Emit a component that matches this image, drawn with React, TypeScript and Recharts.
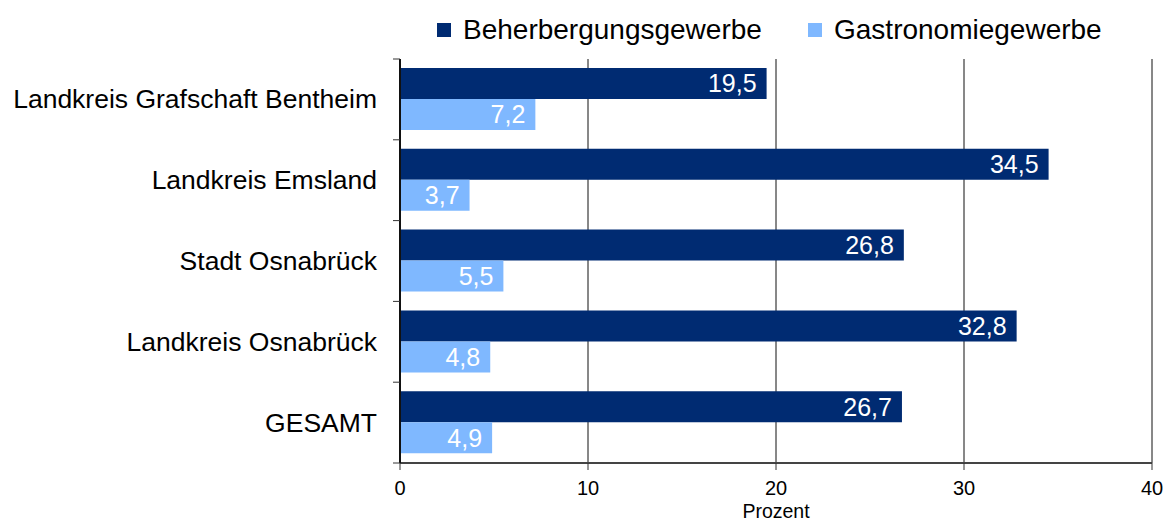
import { BarChart, Bar, XAxis, YAxis, CartesianGrid, LabelList } from "recharts";

const regions = [
  "Landkreis Grafschaft Bentheim",
  "Landkreis Emsland",
  "Stadt Osnabrück",
  "Landkreis Osnabrück",
  "GESAMT",
];
const beherbergung = [19.5, 34.5, 26.8, 32.8, 26.7];
const gastronomie = [7.2, 3.7, 5.5, 4.8, 4.9];
const xTicks = [0, 10, 20, 30, 40];

const DARK = "#002b72";
const LIGHT = "#7fb8ff";
const FONT = "'Liberation Sans', Arial, Helvetica, sans-serif";

const W = 1170;
const H = 523;
const TOP = 59;
const BOTTOM_AXIS = 60;
const BAND = (H - TOP - BOTTOM_AXIS) / regions.length;

const data = regions.map((name, i) => ({
  name,
  beherbergung: beherbergung[i],
  gastronomie: gastronomie[i],
}));

const fmt = (v: any) => String(v).replace(".", ",");

function CategoryTick(props: any) {
  const { x, y, payload, index } = props;
  const last = index === regions.length - 1;
  return (
    <g>
      <line x1={x + 16} x2={x + 23} y1={y - BAND / 2} y2={y - BAND / 2} stroke="#333" />
      {last && (
        <line x1={x + 16} x2={x + 23} y1={y + BAND / 2} y2={y + BAND / 2} stroke="#333" />
      )}
      <text
        x={x}
        y={y}
        dy={9}
        textAnchor="end"
        fontSize={26.5}
        fill="#000"
        fontFamily={FONT}
      >
        {payload.value}
      </text>
    </g>
  );
}

function LegendBox() {
  const items = [
    { label: "Beherbergungsgewerbe", color: DARK, left: 437 },
    { label: "Gastronomiegewerbe", color: LIGHT, left: 808 },
  ];
  return (
    <>
      {items.map((it) => (
        <div
          key={it.label}
          style={{
            position: "absolute",
            left: it.left,
            top: 13,
            display: "flex",
            alignItems: "center",
            fontFamily: FONT,
            fontSize: 28,
            lineHeight: "34px",
            color: "#000",
            whiteSpace: "nowrap",
          }}
        >
          <span
            style={{
              display: "inline-block",
              width: 14,
              height: 14,
              background: it.color,
              marginRight: 12,
            }}
          />
          {it.label}
        </div>
      ))}
    </>
  );
}

export default function App() {
  return (
    <div style={{ position: "relative", width: W, height: H, background: "#fff" }}>
      <style>{`body{margin:0}`}</style>
      <BarChart
        width={W}
        height={H}
        data={data}
        layout="vertical"
        margin={{ top: TOP, right: 18, left: 0, bottom: 0 }}
        barGap={0}
        barSize={31}
      >
        <CartesianGrid
          xAxisId="main"
          yAxisId="main"
          horizontal={false}
          stroke="#111"
          strokeWidth={1}
        />
        <XAxis
          xAxisId="main"
          type="number"
          domain={[0, 40]}
          ticks={xTicks}
          height={BOTTOM_AXIS}
          axisLine={{ stroke: "#444", strokeWidth: 2 }}
          tickLine={{ stroke: "#333" }}
          tickSize={7}
          tick={{ fontSize: 20, fill: "#000", fontFamily: FONT }}
          tickMargin={11}
          interval={0}
          label={{
            value: "Prozent",
            position: "insideBottom",
            offset: 5,
            style: { fontSize: 19.5, fill: "#000", fontFamily: FONT },
          }}
        />
        <XAxis
          xAxisId="top"
          orientation="top"
          type="number"
          domain={[0, 40]}
          height={0}
          tick={false}
          tickLine={false}
          axisLine={{ stroke: "#999", strokeWidth: 2 }}
        />
        <YAxis
          yAxisId="main"
          type="category"
          dataKey="name"
          width={400}
          axisLine={{ stroke: "#111", strokeWidth: 2 }}
          tickLine={false}
          tick={<CategoryTick />}
          tickMargin={17}
          interval={0}
        />
        <YAxis
          yAxisId="right"
          orientation="right"
          type="category"
          dataKey="name"
          width={0}
          tick={false}
          tickLine={false}
          axisLine={{ stroke: "#999", strokeWidth: 2 }}
        />
        <Bar
          xAxisId="main"
          yAxisId="main"
          dataKey="beherbergung"
          fill={DARK}
          isAnimationActive={false}
        >
          <LabelList
            dataKey="beherbergung"
            position="insideRight"
            offset={10}
            formatter={fmt}
            style={{ fill: "#fff", fontSize: 25, fontFamily: FONT }}
          />
        </Bar>
        <Bar
          xAxisId="main"
          yAxisId="main"
          dataKey="gastronomie"
          fill={LIGHT}
          isAnimationActive={false}
        >
          <LabelList
            dataKey="gastronomie"
            position="insideRight"
            offset={10}
            formatter={fmt}
            style={{ fill: "#fff", fontSize: 25, fontFamily: FONT }}
          />
        </Bar>
      </BarChart>
      <LegendBox />
    </div>
  );
}
